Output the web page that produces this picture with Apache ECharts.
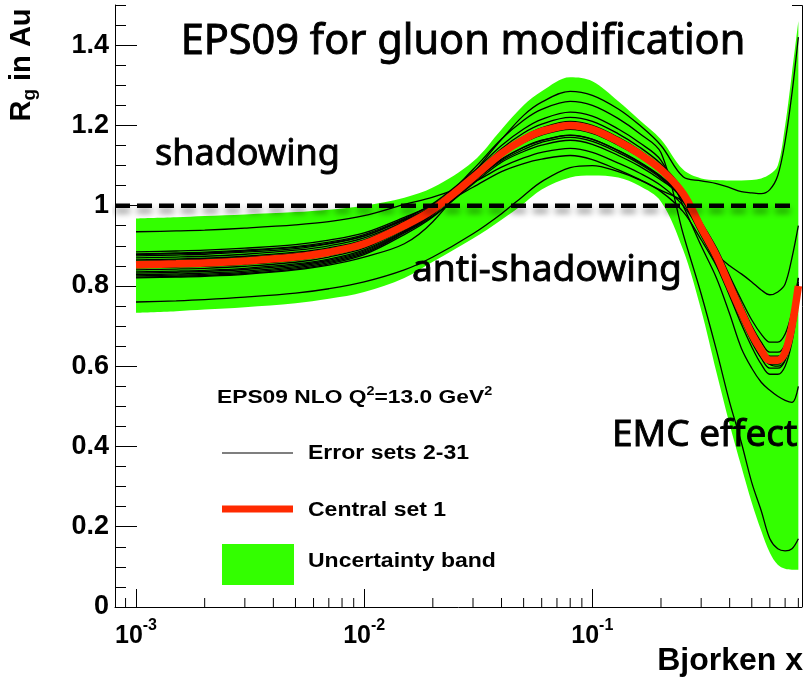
<!DOCTYPE html>
<html>
<head>
<meta charset="utf-8">
<script src="https://cdn.jsdelivr.net/npm/echarts@6/dist/echarts.min.js"></script>
<style>
  html, body { margin: 0; padding: 0; background: #ffffff; }
  #chart { width: 808px; height: 677px; }
</style>
</head>
<body>
<div id="chart"></div>
<script>
// Bjorken-x sampling points shared by every curve
const xGrid = [0.001, 0.0015, 0.002, 0.003, 0.005, 0.007, 0.01, 0.015, 0.02, 0.03,
               0.04, 0.05, 0.06, 0.08, 0.1, 0.13, 0.16, 0.2, 0.25, 0.3,
               0.35, 0.4, 0.45, 0.5, 0.55, 0.6, 0.65, 0.7, 0.75, 0.8];

// EPS09 NLO central set (set 1), R_g for Au at Q^2 = 13 GeV^2
const centralSet = [0.853, 0.855, 0.857, 0.862, 0.872, 0.884, 0.905, 0.950, 0.990, 1.070,
                    1.130, 1.165, 1.185, 1.200, 1.190, 1.160, 1.130, 1.090, 1.030, 0.945,
                    0.875, 0.800, 0.735, 0.680, 0.640, 0.615, 0.615, 0.635, 0.700, 0.800];

// Uncertainty band edges
const bandUpper = [0.968, 0.971, 0.974, 0.978, 0.984, 0.990, 1.000, 1.020, 1.045, 1.110,
                   1.190, 1.250, 1.285, 1.320, 1.310, 1.260, 1.215, 1.165, 1.090, 1.068,
                   1.064, 1.063, 1.063, 1.064, 1.068, 1.078, 1.100, 1.200, 1.330, 1.460];
const bandLower = [0.733, 0.737, 0.741, 0.747, 0.757, 0.768, 0.785, 0.820, 0.860, 0.918,
                   0.965, 1.005, 1.040, 1.070, 1.075, 1.070, 1.050, 1.010, 0.890, 0.740,
                   0.585, 0.455, 0.350, 0.260, 0.190, 0.135, 0.105, 0.095, 0.093, 0.093];

// Error sets 2-31 (distinct curves; many of the sets lie on top of each other)
const errorSets = [
  [0.760, 0.763, 0.766, 0.772, 0.782, 0.793, 0.810, 0.840, 0.872, 0.930, 0.980, 1.025, 1.060, 1.095, 1.100, 1.085, 1.065, 1.035, 0.985, 0.915, 0.850, 0.775, 0.705, 0.648, 0.605, 0.580, 0.580, 0.600, 0.660, 0.760],
  [0.820, 0.822, 0.824, 0.829, 0.840, 0.852, 0.872, 0.905, 0.960, 1.080, 1.165, 1.225, 1.258, 1.285, 1.275, 1.241, 1.202, 1.150, 1.072, 1.062, 1.055, 1.045, 1.035, 1.032, 1.030, 1.040, 1.075, 1.160, 1.280, 1.420],
  [0.935, 0.937, 0.939, 0.944, 0.952, 0.960, 0.975, 1.003, 1.021, 1.058, 1.096, 1.119, 1.133, 1.143, 1.133, 1.106, 1.082, 1.050, 1.000, 0.935, 0.880, 0.850, 0.830, 0.810, 0.790, 0.778, 0.785, 0.805, 0.870, 0.950],
  [0.845, 0.847, 0.849, 0.854, 0.864, 0.877, 0.898, 0.945, 0.992, 1.090, 1.166, 1.213, 1.240, 1.260, 1.250, 1.217, 1.181, 1.132, 0.930, 0.780, 0.640, 0.510, 0.410, 0.310, 0.240, 0.170, 0.145, 0.140, 0.145, 0.170],
  [0.880, 0.882, 0.884, 0.889, 0.898, 0.909, 0.928, 0.968, 1.005, 1.084, 1.150, 1.191, 1.215, 1.233, 1.223, 1.191, 1.158, 1.113, 1.000, 0.900, 0.820, 0.730, 0.645, 0.595, 0.560, 0.540, 0.525, 0.515, 0.510, 0.550],
  [0.870, 0.872, 0.874, 0.879, 0.889, 0.900, 0.920, 0.961, 1.000, 1.079, 1.142, 1.181, 1.203, 1.220, 1.210, 1.179, 1.147, 1.104, 1.040, 0.960, 0.895, 0.825, 0.765, 0.715, 0.680, 0.660, 0.660, 0.680, 0.735, 0.820],
  [0.835, 0.837, 0.839, 0.844, 0.855, 0.867, 0.890, 0.938, 0.983, 1.072, 1.136, 1.173, 1.194, 1.210, 1.200, 1.170, 1.139, 1.097, 1.040, 0.955, 0.885, 0.810, 0.745, 0.690, 0.650, 0.625, 0.625, 0.645, 0.710, 0.810],
  [0.885, 0.887, 0.889, 0.894, 0.903, 0.914, 0.932, 0.971, 1.002, 1.065, 1.116, 1.146, 1.163, 1.176, 1.166, 1.137, 1.110, 1.073, 1.020, 0.940, 0.870, 0.795, 0.730, 0.675, 0.635, 0.605, 0.600, 0.615, 0.675, 0.770],
  [0.825, 0.827, 0.829, 0.834, 0.845, 0.858, 0.881, 0.932, 0.974, 1.054, 1.108, 1.135, 1.151, 1.163, 1.153, 1.125, 1.099, 1.064, 1.020, 0.935, 0.865, 0.790, 0.725, 0.670, 0.630, 0.605, 0.605, 0.625, 0.690, 0.790],
  [0.875, 0.877, 0.879, 0.884, 0.893, 0.905, 0.924, 0.964, 0.992, 1.046, 1.085, 1.105, 1.116, 1.125, 1.115, 1.089, 1.066, 1.038, 1.010, 0.955, 0.890, 0.820, 0.755, 0.700, 0.660, 0.635, 0.635, 0.655, 0.720, 0.820],
  [0.828, 0.830, 0.832, 0.837, 0.848, 0.861, 0.884, 0.934, 0.978, 1.064, 1.124, 1.157, 1.176, 1.190, 1.180, 1.151, 1.122, 1.083, 1.010, 0.925, 0.855, 0.780, 0.715, 0.660, 0.620, 0.595, 0.595, 0.615, 0.680, 0.780],
  [0.865, 0.867, 0.869, 0.874, 0.884, 0.895, 0.915, 0.958, 0.996, 1.073, 1.133, 1.169, 1.190, 1.205, 1.195, 1.165, 1.134, 1.094, 1.035, 0.950, 0.880, 0.805, 0.740, 0.685, 0.645, 0.620, 0.620, 0.640, 0.705, 0.805],
  [0.840, 0.842, 0.844, 0.849, 0.859, 0.872, 0.894, 0.942, 0.984, 1.067, 1.127, 1.161, 1.180, 1.195, 1.185, 1.155, 1.126, 1.087, 1.025, 0.940, 0.870, 0.795, 0.730, 0.675, 0.635, 0.610, 0.610, 0.630, 0.695, 0.795],
  [0.862, 0.864, 0.866, 0.871, 0.881, 0.892, 0.912, 0.955, 0.994, 1.071, 1.131, 1.167, 1.187, 1.202, 1.192, 1.162, 1.132, 1.092, 1.032, 0.947, 0.877, 0.802, 0.737, 0.682, 0.642, 0.617, 0.617, 0.637, 0.702, 0.802],
  [0.878, 0.880, 0.882, 0.887, 0.896, 0.906, 0.925, 0.966, 0.998, 1.062, 1.112, 1.140, 1.158, 1.170, 1.160, 1.132, 1.105, 1.068, 1.015, 0.935, 0.866, 0.792, 0.727, 0.673, 0.633, 0.608, 0.608, 0.628, 0.693, 0.793],
  [0.832, 0.834, 0.836, 0.841, 0.852, 0.864, 0.887, 0.936, 0.980, 1.068, 1.130, 1.166, 1.186, 1.201, 1.191, 1.161, 1.131, 1.091, 1.031, 0.946, 0.876, 0.801, 0.736, 0.681, 0.641, 0.616, 0.616, 0.636, 0.701, 0.801],
  [0.822, 0.824, 0.826, 0.831, 0.842, 0.855, 0.878, 0.928, 0.972, 1.058, 1.115, 1.145, 1.162, 1.175, 1.165, 1.137, 1.108, 1.071, 1.018, 0.938, 0.868, 0.794, 0.729, 0.676, 0.636, 0.611, 0.611, 0.631, 0.696, 0.796]
];

// Axis ranges and tick layout
const xRange = [0.000809, 0.83];
const yRange = [0, 1.5];
const yMajorStep = 0.2;
const yMinorStep = 0.05;
const xDecadeLabels = [[0.001, '-3'], [0.01, '-2'], [0.1, '-1']];
const xMinorTicks = [0.0009, 0.002, 0.003, 0.004, 0.005, 0.006, 0.007, 0.008, 0.009,
                     0.02, 0.03, 0.04, 0.05, 0.06, 0.07, 0.08, 0.09,
                     0.2, 0.3, 0.4, 0.5, 0.6, 0.7, 0.8];
const unityLineEnd = 0.78;

const GREEN = '#33ff00';
const RED = '#ff2a00';
const AXIS_FONT = '"Liberation Sans", Arial, sans-serif';
const NOTE_FONT = '"Noto Sans", sans-serif';
const SMOOTH = 0.35;

const pairs = ys => xGrid.map((x, i) => [x, ys[i]]);
// value first, x second: the stack then accumulates the R_g dimension
const valueFirst = ys => xGrid.map((x, i) => [ys[i], x]);

const chart = echarts.init(document.getElementById('chart'), null, { renderer: 'canvas' });

const series = [
  {
    name: 'band-base', type: 'line', stack: 'band', data: valueFirst(bandLower),
    encode: { x: 1, y: 0 },
    symbol: 'none', smooth: SMOOTH, silent: true, z: 1,
    lineStyle: { width: 0, opacity: 0 }
  },
  {
    name: 'Uncertainty band', type: 'line', stack: 'band',
    data: valueFirst(bandUpper.map((u, i) => u - bandLower[i])),
    encode: { x: 1, y: 0 },
    symbol: 'none', smooth: SMOOTH, silent: true, z: 1,
    lineStyle: { width: 0, opacity: 0 },
    areaStyle: { color: GREEN, opacity: 1 }
  }
];

errorSets.forEach((set) => {
  series.push({
    name: 'Error sets 2-31', type: 'line', data: pairs(set),
    symbol: 'none', smooth: SMOOTH, silent: true, z: 2,
    lineStyle: { color: '#000000', width: 1.3 }
  });
});

series.push({
  name: 'Central set 1', type: 'line', data: pairs(centralSet),
  symbol: 'none', smooth: SMOOTH, silent: true, z: 3,
  lineStyle: { color: RED, width: 7.5 }
});

// R = 1 reference line
series.push({
  name: 'unity', type: 'line', data: [[xRange[0], 1], [unityLineEnd, 1]],
  symbol: 'none', silent: true, z: 4,
  lineStyle: {
    color: '#000000', width: 4.5, type: [15, 7],
    shadowColor: 'rgba(0,0,0,0.45)', shadowBlur: 6, shadowOffsetY: 5
  }
});

// minor ticks of the logarithmic x axis
series.push({
  name: 'x-minor-ticks', type: 'custom', silent: true, z: 6,
  data: xMinorTicks.map(v => [v, 0]),
  renderItem: (params, api) => {
    const p = api.coord([api.value(0), 0]);
    return {
      type: 'line',
      shape: { x1: p[0], y1: p[1], x2: p[0], y2: p[1] - 9 },
      style: { stroke: '#000000', lineWidth: 1 }
    };
  }
});

const legendText = { fill: '#000', font: 'bold 20px ' + AXIS_FONT, textVerticalAlign: 'middle', verticalAlign: 'middle' };
const noteStyle = (text, size) => ({
  text: text, fill: '#000', font: size + 'px ' + NOTE_FONT,
  stroke: '#000', lineWidth: 0.9,
  textVerticalAlign: 'middle', verticalAlign: 'middle'
});

const option = {
  animation: false,
  backgroundColor: '#ffffff',
  grid: { left: 115, right: 6, top: 5, bottom: 70 },
  xAxis: {
    type: 'log', logBase: 10, min: xRange[0], max: xRange[1],
    axisLine: { lineStyle: { color: '#000', width: 1 } },
    axisTick: { inside: true, length: 18, lineStyle: { color: '#000', width: 1 } },
    splitLine: { show: false },
    axisLabel: {
      showMinLabel: false, showMaxLabel: false, margin: 11,
      formatter: v => {
        const hit = xDecadeLabels.find(t => Math.abs(t[0] - v) / t[0] < 1e-6);
        return hit ? '{b|10}{s|' + hit[1] + '}' : '';
      },
      rich: {
        b: { fontFamily: AXIS_FONT, fontWeight: 'bold', fontSize: 25, lineHeight: 36, color: '#000' },
        s: { fontFamily: AXIS_FONT, fontWeight: 'bold', fontSize: 16, lineHeight: 16, verticalAlign: 'top', color: '#000' }
      }
    }
  },
  yAxis: [
    {
      type: 'value', position: 'left', min: yRange[0], max: yRange[1], interval: yMajorStep,
      axisLine: { show: true, lineStyle: { color: '#000', width: 1 } },
      axisTick: { inside: true, length: 22, lineStyle: { color: '#000', width: 1 } },
      splitLine: { show: false },
      axisLabel: {
        showMaxLabel: false, margin: 6, color: '#000',
        fontFamily: AXIS_FONT, fontWeight: 'bold', fontSize: 27
      }
    },
    {
      type: 'value', position: 'left', min: yRange[0], max: yRange[1], interval: yMinorStep,
      axisLine: { show: false },
      axisTick: { inside: true, length: 11, lineStyle: { color: '#000', width: 1 } },
      splitLine: { show: false },
      axisLabel: { show: false }
    }
  ],
  series: series,
  graphic: [
    // right edge of the frame
    { type: 'polyline', silent: true, shape: { points: [[792, 5.5], [802.5, 5.5], [802.5, 607]] },
      style: { stroke: '#000', lineWidth: 1, fill: null } },
    // title and physics annotations
    { type: 'text', x: 463, y: 42, silent: true, z: 10,
      style: Object.assign(noteStyle('EPS09 for gluon modification', 41.5), { textAlign: 'center', align: 'center' }) },
    { type: 'text', x: 155, y: 155, silent: true, z: 10, style: noteStyle('shadowing', 36) },
    { type: 'text', x: 412, y: 270, silent: true, z: 10, style: noteStyle('anti-shadowing', 37.2) },
    { type: 'text', x: 612, y: 435, silent: true, z: 10, style: noteStyle('EMC effect', 37) },
    // axis titles
    { type: 'text', x: 22, y: 65, rotation: Math.PI / 2, silent: true, z: 10,
      style: {
        text: '{a|R}{g|g}{a| in Au}', textAlign: 'center', align: 'center',
        textVerticalAlign: 'middle', verticalAlign: 'middle',
        rich: {
          a: { fontFamily: AXIS_FONT, fontWeight: 'bold', fontSize: 29, lineHeight: 34, fill: '#000', color: '#000' },
          g: { fontFamily: AXIS_FONT, fontWeight: 'bold', fontSize: 19, lineHeight: 19, verticalAlign: 'bottom', fill: '#000', color: '#000' }
        }
      } },
    { type: 'text', x: 803, y: 661, silent: true, z: 10,
      style: { text: 'Bjorken x', fill: '#000', font: 'bold 32px ' + AXIS_FONT,
               textAlign: 'right', align: 'right', textVerticalAlign: 'middle', verticalAlign: 'middle' } },
    // legend
    { type: 'text', x: 217, y: 398, scaleX: 1.2, silent: true, z: 10,
      style: {
        text: '{t|EPS09 NLO Q}{s|2}{t|=13.0 GeV}{s|2}', textVerticalAlign: 'middle', verticalAlign: 'middle',
        rich: {
          t: { fontFamily: AXIS_FONT, fontWeight: 'bold', fontSize: 19, lineHeight: 24, color: '#000', fill: '#000' },
          s: { fontFamily: AXIS_FONT, fontWeight: 'bold', fontSize: 12, lineHeight: 12, verticalAlign: 'top', color: '#000', fill: '#000' }
        }
      } },
    { type: 'line', silent: true, shape: { x1: 222, y1: 453, x2: 293, y2: 453 },
      style: { stroke: '#000', lineWidth: 1.2 } },
    { type: 'text', x: 308, y: 453, scaleX: 1.15, silent: true, z: 10,
      style: Object.assign({ text: 'Error sets 2-31' }, legendText) },
    { type: 'line', silent: true, shape: { x1: 222, y1: 509, x2: 293, y2: 509 },
      style: { stroke: RED, lineWidth: 7 } },
    { type: 'text', x: 308, y: 510, scaleX: 1.15, silent: true, z: 10,
      style: Object.assign({ text: 'Central set 1' }, legendText) },
    { type: 'rect', silent: true, shape: { x: 222, y: 544, width: 72, height: 41 },
      style: { fill: GREEN } },
    { type: 'text', x: 308, y: 561, scaleX: 1.15, silent: true, z: 10,
      style: Object.assign({ text: 'Uncertainty band' }, legendText) }
  ]
};

chart.setOption(option);
</script>
</body>
</html>
